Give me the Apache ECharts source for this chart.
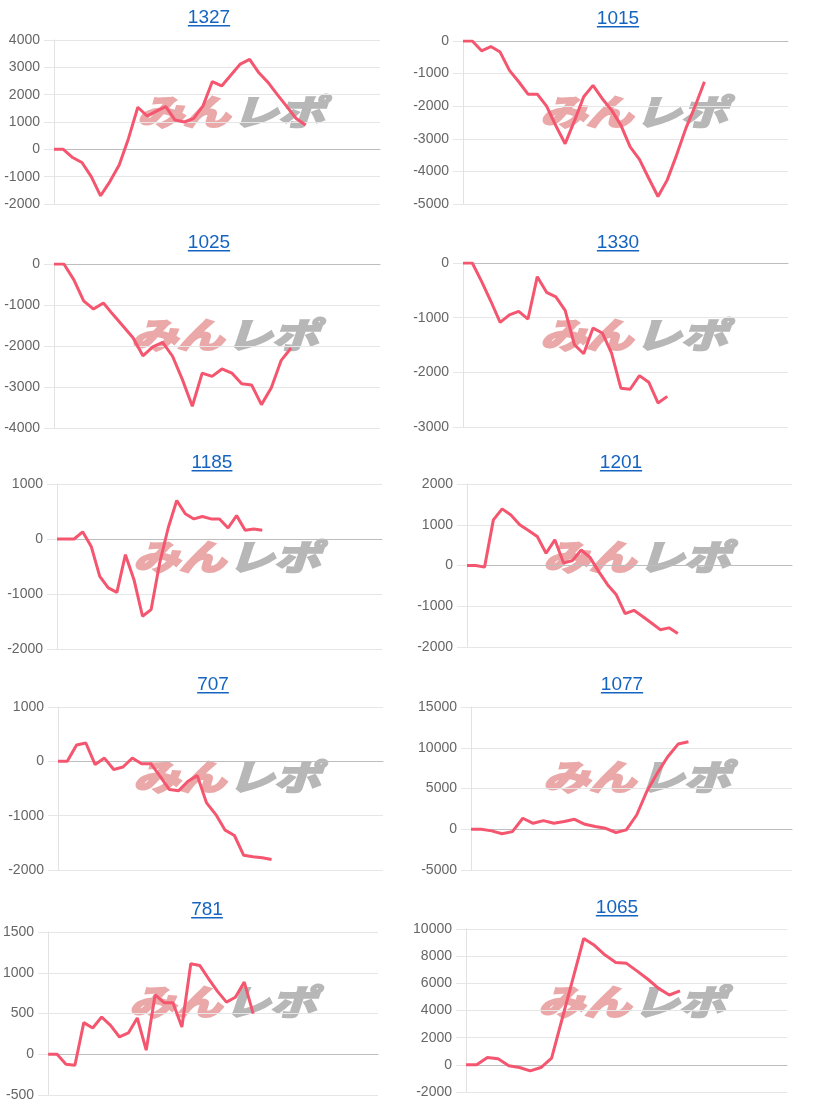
<!DOCTYPE html>
<html><head><meta charset="utf-8">
<script src="https://cdn.jsdelivr.net/npm/echarts@6/dist/echarts.min.js"></script>
<style>html,body{margin:0;padding:0;background:#fff}#c{width:813px;height:1105px}</style>
</head><body><div id="c"></div>
<script>
// ---- data ----
const titles = ['1327','1015','1025','1330','1185','1201','707','1077','781','1065'];
const d1327 = [0,0,-300,-480,-1000,-1700,-1180,-570,400,1540,1220,1400,1560,1070,1000,1130,1590,2480,2320,2720,3120,3290,2800,2440,1990,1560,1130,890];
const d1015 = [0,0,-300,-170,-340,-900,-1250,-1630,-1630,-2000,-2600,-3150,-2450,-1710,-1360,-1770,-2120,-2580,-3250,-3630,-4210,-4770,-4260,-3500,-2680,-2000,-1250];
const d1025 = [0,0,-380,-900,-1100,-950,-1240,-1520,-1800,-2240,-2020,-1910,-2250,-2820,-3470,-2660,-2740,-2560,-2660,-2920,-2950,-3430,-3020,-2350,-2050];
const d1330 = [0,0,-335,-700,-1085,-950,-885,-1025,-250,-537,-620,-866,-1495,-1660,-1190,-1280,-1650,-2290,-2310,-2060,-2180,-2560,-2440];
const d1185 = [0,0,0,130,-135,-680,-890,-970,-285,-740,-1405,-1285,-440,200,700,460,365,410,365,365,200,425,160,180,160];
const d1201 = [0,0,-40,1120,1390,1240,1000,860,710,300,630,60,120,380,200,-150,-470,-720,-1180,-1100,-1250,-1410,-1575,-1530,-1670];
const d707  = [0,0,300,337,-60,60,-150,-105,60,-43,-43,-275,-520,-540,-367,-263,-765,-980,-1267,-1365,-1730,-1757,-1775,-1805];
const d1077 = [0,0,-200,-550,-290,1350,730,1060,730,940,1220,610,330,120,-400,-80,1750,4700,6900,8900,10450,10730];
const d781  = [0,0,-122,-135,388,322,457,355,212,261,445,50,730,632,632,335,1110,1090,926,771,640,700,885,498];
const d1065 = [0,0,540,440,-70,-200,-440,-200,490,3430,6370,9300,8800,8080,7540,7470,6900,6300,5630,5140,5440];
const seriesData = [d1327,d1015,d1025,d1330,d1185,d1201,d707,d1077,d781,d1065];
const labelCounts = [36,36,34,36,39,38,36,32,38,31];
const yMin  = [-2000,-5000,-4000,-3000,-2000,-2000,-2000,-5000,-500,-2000];
const yMax  = [4000,0,0,0,1000,2000,1000,15000,1500,10000];
const yStep = [1000,1000,1000,1000,1000,1000,1000,5000,500,2000];

// ---- layout (pixels) ----
const gridBox = [[54,40,326,164],[463,41,325,163],[54,264,326,164],[463,263,325,164],[57,484,325,165],
                 [467,484,325,163],[58,707,325,163],[471,707,321,163],[48,932,330,163],[466,929,321,163]];
const titleAt = [[209,17],[618,18],[209,242],[618,242],[212,462],[621,462],[213,684],[622,684],[207,909],[617,907]];
const markAt  = [[236,112],[639,112],[230,335],[639,335],[232,557],[642,557],[232,777],[642,777],[228,1002],[637,1002]];

const LINE = '#f5566f';
const TITLE = '#1565c0';
const FONT = '"Liberation Sans", Arial, sans-serif';

const mctx = document.createElement('canvas').getContext('2d');
mctx.font = '19px ' + FONT;

const grid = [], xAxis = [], yAxis = [], series = [], graphic = [];
titles.forEach((t, i) => {
  const g = gridBox[i];
  grid.push({left: g[0], top: g[1], width: g[2], height: g[3], containLabel: false});
  const cats = [];
  for (let k = 0; k < labelCounts[i]; k++) cats.push(String(k + 1));
  xAxis.push({
    type: 'category', gridIndex: i, data: cats, boundaryGap: false,
    axisLabel: {show: false}, axisTick: {show: false}, splitLine: {show: false},
    axisLine: {show: true, onZero: true, lineStyle: {color: '#bdbdbd', width: 1}}
  });
  yAxis.push({
    type: 'value', gridIndex: i, min: yMin[i], max: yMax[i], interval: yStep[i],
    axisLine: {show: true, lineStyle: {color: '#e2e2e2', width: 1}},
    axisTick: {show: true, length: 10, lineStyle: {color: '#e6e6e6'}},
    axisLabel: {color: '#666', fontSize: 14, fontFamily: FONT, margin: 14, formatter: v => String(v)},
    splitLine: {show: true, lineStyle: {color: '#e6e6e6', width: 1}}
  });
  series.push({
    type: 'line', xAxisIndex: i, yAxisIndex: i, data: seriesData[i],
    showSymbol: false, symbol: 'none', silent: true,
    lineStyle: {color: LINE, width: 3}, itemStyle: {color: LINE}, z: 5
  });
  const ta = titleAt[i];
  const w = mctx.measureText(t).width;
  graphic.push({type: 'text', x: ta[0], y: ta[1] + 1, z: 10,
    style: {text: t, font: '19px ' + FONT, fill: TITLE, textAlign: 'center', textVerticalAlign: 'middle'}});
  graphic.push({type: 'rect', x: ta[0] - w / 2, y: ta[1] + 8, z: 10,
    shape: {x: 0, y: 0, width: w, height: 1.5}, style: {fill: TITLE}});
  const m = markAt[i];
  graphic.push({type: 'group', x: m[0], y: m[1], z: -1, scaleX: 1.32, children: [
    {type: 'text', x: -5, y: 0, z: -1, style: {text: 'みん', font: 'italic bold 35px "Noto Sans CJK JP"', fill: '#eaa8a8', stroke: '#eaa8a8', lineWidth: 2.5, textAlign: 'right', textVerticalAlign: 'middle'}},
    {type: 'text', x: -3, y: 0, z: -1, style: {text: 'レポ', font: 'italic bold 35px "Noto Sans CJK JP"', fill: '#b7b7b7', stroke: '#b7b7b7', lineWidth: 2.5, textAlign: 'left', textVerticalAlign: 'middle'}}
  ]});
});

const chart = echarts.init(document.getElementById('c'), null, {renderer: 'canvas'});
chart.setOption({animation: false, backgroundColor: '#fff', grid, xAxis, yAxis, series, graphic});
</script></body></html>
